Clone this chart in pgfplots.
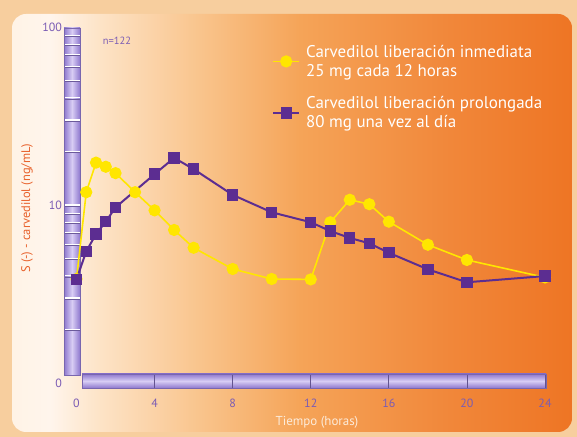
\documentclass[border=0pt]{standalone}
\usepackage{pgfplots}
\pgfplotsset{compat=1.18}
\usepackage{fontspec}
\setmainfont{PT Sans}

\definecolor{outerbg}{HTML}{F7CE9E}
\definecolor{p0}{HTML}{FFF3E6}
\definecolor{p1}{HTML}{FFF5EC}
\definecolor{p2}{HTML}{FDE3C6}
\definecolor{p3}{HTML}{F9C48C}
\definecolor{p4}{HTML}{F5A458}
\definecolor{p5}{HTML}{F1873A}
\definecolor{p6}{HTML}{EE7524}
\definecolor{barpurple}{HTML}{8E78CE}
\definecolor{barlight}{HTML}{D8CDF4}
\definecolor{tickpurple}{HTML}{7B5CB4}
\definecolor{ylab}{HTML}{E8602A}
\definecolor{xlab}{HTML}{FCEBDA}
\definecolor{ir}{HTML}{FFE600}
\definecolor{pr}{HTML}{5C2D91}

\pgfdeclarehorizontalshading{panelshade}{100bp}{color(0bp)=(p0); color(25bp)=(p0); color(28.4bp)=(p1); color(32.9bp)=(p2); color(41.8bp)=(p3); color(50.7bp)=(p4); color(64.1bp)=(p5); color(75bp)=(p6); color(100bp)=(p6)}

\begin{document}
\begin{tikzpicture}
\useasboundingbox (0,0) rectangle (577bp,437bp);
\fill[outerbg] (0,0) rectangle (577bp,437bp);
\shade[shading=panelshade, rounded corners=14bp] (12bp,5bp) rectangle (572bp,423bp);

% y bar with log ladder
\shade[left color=barpurple, right color=barpurple, middle color=barlight] (64bp,62bp) rectangle (80bp,409bp);
\foreach \v in {2,3,4,5,6,7,8,9,10,20,30,40,50,60,70,80,90} {
  \pgfmathsetmacro\yy{54+178*log10(\v)}
  \pgfmathsetmacro\yb{\yy-1.1}
  \draw[barpurple!75!black, line width=0.5bp] (64bp,\yb bp) -- (80bp,\yb bp);
  \draw[white, line width=1.2bp] (64bp,\yy bp) -- (80bp,\yy bp);
}
\draw[barpurple!85!black, line width=0.4bp] (64bp,62bp) rectangle (80bp,409bp);

% x bar
\shade[top color=barpurple, bottom color=barpurple, middle color=barlight] (82bp,49bp) rectangle (546bp,63bp);
\foreach \t in {4,8,12,16,20,24} {
  \pgfmathsetmacro\xx{76.5+468.5*\t/24}
  \draw[barpurple!70!black, line width=0.8bp] (\xx bp,49bp) -- (\xx bp,63bp);
}
\draw[barpurple!85!black, line width=0.4bp] (82bp,49bp) rectangle (546bp,63bp);

\begin{axis}[
  at={(76.5bp,54bp)}, anchor=south west,
  scale only axis, width=468.5bp, height=356bp,
  xmin=0, xmax=24, ymode=log, ymin=1, ymax=100,
  axis line style={draw=none},
  major tick length=0pt, yminorticks=false,
  xtick={0,4,...,24},
  ytick={1,10,100}, yticklabels={0,10,100},
  /pgf/number format/assume math mode=true,
  tick label style={font=\fontsize{12}{14}\selectfont, text=tickpurple},
  xticklabel style={yshift=-12bp},
  yticklabel style={anchor=east, xshift=-11bp},
  clip=false,
  legend image code/.code={\draw[mark repeat=2,mark phase=2,#1] plot coordinates {(0bp,0bp) (13bp,0bp) (26bp,0bp)};},
  legend style={at={(0.4173,0.955)}, anchor=north west, draw=none, fill=none,
    inner sep=0pt, text=white, font=\fontsize{17}{18.8}\selectfont,
    cells={align=left, anchor=west}, row sep=15bp, column sep=4bp},
]
\addplot[color=ir, line width=1.6bp, mark=*, mark size=5.3bp, mark options={fill=ir, draw=ir}] coordinates {
(0,3.84) (0.5,11.8) (1,17.3) (1.5,16.4) (2,15.1) (3,11.8) (4,9.33) (5,7.24)
(6,5.75) (8,4.37) (10,3.84) (12,3.82) (13,8.0) (14,10.7) (15,10.1) (16,8.06)
(18,5.98) (20,4.91) (24,3.92)
};
\addlegendentry{Carvedilol liberación inmediata\\25 mg cada 12 horas}
\addplot[color=pr, line width=2bp, mark=square*, mark size=4.7bp, mark options={fill=pr, draw=pr}] coordinates {
(0,3.82) (0.5,5.49) (1,6.87) (1.5,8.06) (2,9.70) (4,14.9) (5,18.4) (6,15.9)
(8,11.4) (10,9.10) (12,8.0) (13,7.14) (14,6.53) (15,6.09) (16,5.39)
(18,4.35) (20,3.68) (24,3.99)
};
\addlegendentry{Carvedilol liberación prolongada\\80 mg una vez al día}
\end{axis}

\node[rotate=90, text=ylab, font=\fontsize{12.5}{14}\selectfont] at (27bp,229bp) {S (-) - carvedilol (ng/mL)};
\node[text=xlab, font=\fontsize{13}{15}\selectfont] at (317bp,15bp) {Tiempo (horas)};
\node[text=tickpurple, font=\fontsize{10.5}{12}\selectfont] at (117bp,396bp) {n=122};
\end{tikzpicture}
\end{document}
